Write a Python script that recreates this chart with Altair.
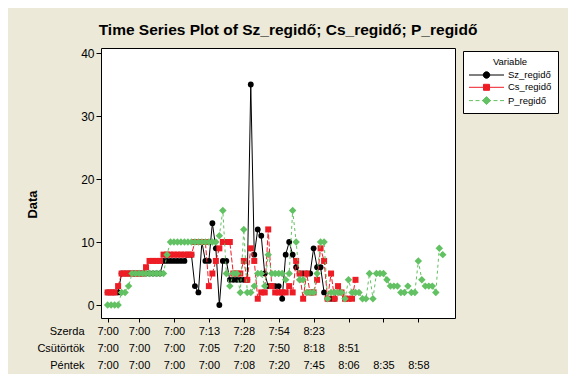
import json
import altair as alt
import pandas as pd

# ---- data ----
series_names = ["Sz_regidő", "Cs_regidő", "P_regidő"]

sz_values = [2, 2, 2, 2, 5, 5, 5, 5, 5, 5,
             5, 5, 5, 5, 5, 5, 7, 7, 7, 7,
             7, 7, 7, 8, 8, 3, 2, 10, 7, 7,
             13, 9, 0, 7, 7, 4, 4, 4, 4, 4,
             4, 35, 8, 12, 11, 5, 3, 3, 3, 3,
             1, 8, 10, 8, 6, 5, 5, 5, 5, 9,
             6, 6, 2, 1, 1, 1]

cs_values = [2, 2, 2, 3, 5, 5, 5, 5, 5, 5,
             5, 6, 7, 7, 7, 7, 8, 8, 8, 8,
             8, 8, 8, 8, 8, 10, 10, 10, 10, 3,
             5, 7, 9, 10, 10, 10, 5, 5, 5, 7,
             4, 9, 7, 1, 2, 2, 12, 3, 2, 2,
             2, 2, 3, 2, 7, 5, 1, 5, 2, 2,
             4, 9, 7, 1, 5, 1, 3, 2, 1, 1,
             1, 4]

p_values = [0, 0, 0, 0, 2, 2, 3, 5, 5, 5,
            5, 5, 5, 5, 5, 5, 5, 8, 10, 10,
            10, 10, 10, 10, 10, 10, 10, 10, 10, 10,
            10, 10, 11, 15, 5, 3, 5, 5, 2, 12,
            2, 2, 3, 5, 5, 3, 8, 5, 5, 5,
            5, 4, 5, 15, 10, 4, 4, 2, 2, 2,
            5, 10, 10, 1, 2, 2, 2, 2, 1, 4,
            2, 2, 2, 1, 1, 5, 1, 5, 5, 5,
            4, 3, 3, 3, 2, 2, 3, 2, 2, 7,
            4, 3, 3, 3, 2, 9, 8]

tick_positions = [1, 10, 20, 30, 40, 50, 60, 70, 80, 90]
day_names = ["Szerda", "Csütörtök", "Péntek"]
szerda_times = ["7:00", "7:00", "7:00", "7:13", "7:28", "7:54", "8:23", "", "", ""]
csutortok_times = ["7:00", "7:00", "7:00", "7:05", "7:20", "7:50", "8:18", "8:51", "", ""]
pentek_times = ["7:00", "7:00", "7:00", "7:00", "7:08", "7:20", "7:45", "8:06", "8:35", "8:58"]
y_ticks = [0, 10, 20, 30, 40]

# ---- styling ----
colors = ["#000000", "#EE1C24", "#62C162"]
shapes = ["circle", "square", "diamond"]
sizes = [34, 36, 56]
dashes = [None, [5, 2], [3, 3]]
legend_paths = [
    "M-3.5,0H3.5M0.65,0A0.65,0.65,0,1,1,-0.65,0A0.65,0.65,0,1,1,0.65,0Z",
    "M-3.5,0H3.5M-0.6,-0.6H0.6V0.6H-0.6Z",
    "M-3.5,0H-2.7M-2.2,0H-1.4M-0.9,0H-0.5M0.5,0H0.9M1.4,0H2.2M2.7,0H3.5M0,-0.8L0.8,0L0,0.8L-0.8,0Z",
]
FONT = "Liberation Sans"
NBSP = "\u00a0"
ROW_STEP = 17

rows = []
for name, vals in zip(series_names, [sz_values, cs_values, p_values]):
    for i, v in enumerate(vals, start=1):
        rows.append({"Index": i, "Data": v, "Variable": name})
df = pd.DataFrame(rows)

x_scale = alt.Scale(domain=[-0.9, 100.5], nice=False, zero=False)
y_scale = alt.Scale(domain=[-2.06, 40.8], nice=False, zero=False)


def day_axis(row, day, times):
    expr = json.dumps(times) + "[indexof(" + json.dumps(tick_positions) + ", datum.value)]"
    return alt.Axis(
        orient="bottom", offset=row * ROW_STEP,
        values=tick_positions, labelExpr=expr, tickSize=4, tickColor="black",
        tickOpacity=1 if row == 0 else 0,
        labelFont=FONT, labelFontSize=11, labelColor="black",
        labelPadding=3, labelOverlap=False, labelFlush=False, labelBaseline="top",
        domain=False, grid=False,
        title=day, titleFont=FONT, titleFontSize=11, titleFontWeight="normal",
        titleColor="black", titleAlign="right", titleBaseline="top",
        titleX=-17, titleY=7, titleAnchor="start",
    )


day_axes = [day_axis(r, d, t) for r, (d, t) in
            enumerate(zip(day_names, [szerda_times, csutortok_times, pentek_times]))]

y_enc = alt.Y(
    "Data:Q", scale=y_scale,
    axis=alt.Axis(
        values=y_ticks, tickSize=5, tickColor="black", labelFont=FONT, labelFontSize=12,
        labelColor="black", labelPadding=2, domain=False, grid=False,
        title="Data", titleFont=FONT, titleFontSize=13, titleFontWeight="bold",
        titleColor="black", titleAngle=270, titleX=-69, titleY=156,
        titleAlign="center", titleBaseline="middle",
    ),
)
x_plain = alt.X("Index:Q", scale=x_scale, axis=None)

base = alt.Chart(df)
layers = []
for k, name in enumerate(series_names):
    sub = base.transform_filter(alt.datum.Variable == name)
    line_kwargs = dict(color=colors[k], strokeWidth=1)
    if dashes[k] is not None:
        line_kwargs["strokeDash"] = dashes[k]
    layers.append(sub.mark_line(**line_kwargs).encode(
        x=alt.X("Index:Q", scale=x_scale, axis=day_axes[k]), y=y_enc))
    layers.append(
        sub.mark_point(shape=shapes[k], filled=True, color=colors[k], size=sizes[k], opacity=1)
        .encode(x=x_plain, y=y_enc)
    )

legend = alt.Legend(
    orient="none", legendX=362, legendY=3, title="Variable",
    titleFont=FONT, titleFontSize=9.5, titleFontWeight="normal", titleColor="black",
    titlePadding=3, titleAnchor="middle",
    labelFont=FONT, labelFontSize=9.5, labelColor="black", labelOffset=16,
    labelExpr="datum.label + '" + NBSP * 7 + "'",
    symbolOffset=12, symbolSize=100, symbolStrokeWidth=1, rowPadding=1.3,
    fillColor="white", strokeColor="black", padding=6,
)
legend_layer = base.transform_filter("false").mark_point(filled=True, opacity=1, size=100, strokeWidth=1).encode(
    x=x_plain, y=y_enc,
    shape=alt.Shape("Variable:N", scale=alt.Scale(domain=series_names, range=legend_paths), legend=legend),
    fill=alt.Fill("Variable:N", scale=alt.Scale(domain=series_names, range=colors), legend=legend),
    stroke=alt.Stroke("Variable:N", scale=alt.Scale(domain=series_names, range=colors), legend=legend),
)
layers.append(legend_layer)

chart = alt.layer(*layers).resolve_axis(x="independent").properties(
    width=354, height=270,
    autosize=alt.AutoSizeParams(type="none"),
    padding={"left": 93, "top": 40, "right": 113, "bottom": 56},
    title=alt.TitleParams(
        "Time Series Plot of Sz_regidő; Cs_regidő; P_regidő",
        font=FONT, fontSize=15.5, fontWeight="bold", color="black",
        anchor="middle", baseline="middle", offset=2, dx=10,
    ),
).configure(background="#ECE9D8").configure_view(fill="white", stroke="black", strokeWidth=1)

chart.save("out.html", embed_options={"renderer": "svg", "actions": False})
